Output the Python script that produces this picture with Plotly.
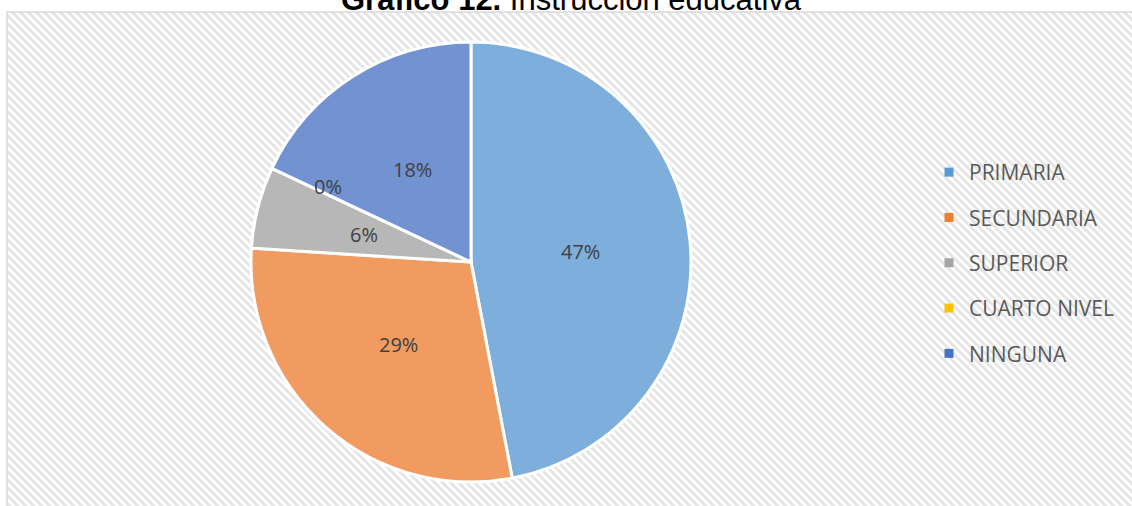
import base64
import math
import plotly.graph_objects as go

# ---- data ----
categories = ["PRIMARIA", "SECUNDARIA", "SUPERIOR", "CUARTO NIVEL", "NINGUNA"]
values = [47, 29, 6, 0, 18]
slice_colors = ["#7DAEDC", "#F19B60", "#B7B7B7", "#FFC000", "#7292D2"]
legend_colors = ["#5B9BD5", "#ED7D31", "#A5A5A5", "#FFC000", "#4472C4"]
title_bold = "Gráfico 12."
title_rest = " Instrucción educativa"

W, H = 1132, 506
CX, CY, R = 471, 262, 220  # pie placement in pixels

# hatched background (Excel-style wide downward diagonal)
svg = f'''<svg xmlns="http://www.w3.org/2000/svg" width="{W}" height="{H}">
<defs><pattern id="p" width="8" height="8" patternUnits="userSpaceOnUse">
<rect width="8" height="8" fill="#ffffff"/>
<path d="M-2,-2 L10,10 M-2,6 L2,10 M6,-2 L10,2" stroke="#E5E5E5" stroke-width="3"/>
</pattern></defs>
<rect width="{W}" height="{H}" fill="#ffffff"/>
<rect x="7" y="12" width="{W}" height="{H}" fill="url(#p)"/>
</svg>'''
bg_uri = "data:image/svg+xml;base64," + base64.b64encode(svg.encode()).decode()

fig = go.Figure()

fig.add_trace(go.Pie(
    labels=categories,
    values=values,
    sort=False,
    direction="clockwise",
    rotation=0,
    marker=dict(colors=slice_colors, line=dict(color="#FFFFFF", width=3)),
    textinfo="none",
    domain=dict(x=[(CX - R) / W, (CX + R) / W], y=[1 - (CY + R) / H, 1 - (CY - R) / H]),
    showlegend=False,
    hoverinfo="label+percent",
))

# legend entries
for name, col in zip(categories, legend_colors):
    fig.add_trace(go.Scatter(
        x=[None], y=[None], mode="markers", name=name, legendgroup=name,
        marker=dict(symbol="square", size=9, color=col),
    ))

# data labels, Excel-style: at half radius along each slice's mid-angle
annotations = []
total = sum(values)
cum = 0
for name, v in zip(categories, values):
    if v == 0:
        theta = 2 * math.pi * cum / total
        d = 0.72 * R
        dy_extra = -8
    else:
        theta = 2 * math.pi * (cum + v / 2) / total
        d = 0.5 * R
        dy_extra = 0
    px = CX + d * math.sin(theta)
    py = CY - d * math.cos(theta) + dy_extra
    annotations.append(dict(
        text=f"{v / total:.0%}", xref="paper", yref="paper",
        x=px / W, y=1 - py / H, xanchor="center", yanchor="middle", showarrow=False,
        font=dict(family="Open Sans", size=20, color="#404040"),
    ))
    cum += v

annotations.append(dict(
    text=f"<b>{title_bold}</b>{title_rest}", xref="paper", yref="paper",
    x=571 / W, y=1 - 19 / H, xanchor="center", yanchor="bottom", showarrow=False,
    font=dict(family="Liberation Sans", size=31, color="#000000"),
))

fig.update_layout(
    width=W, height=H,
    margin=dict(l=0, r=0, t=0, b=0),
    paper_bgcolor="rgba(0,0,0,0)",
    plot_bgcolor="rgba(0,0,0,0)",
    xaxis=dict(visible=False),
    yaxis=dict(visible=False),
    showlegend=True,
    legend=dict(
        x=929 / W, y=1 - 152 / H, xanchor="left", yanchor="top",
        font=dict(family="Open Sans", size=21, color="#595959"),
        tracegroupgap=15, bgcolor="rgba(0,0,0,0)", itemwidth=30,
    ),
    images=[dict(source=bg_uri, xref="paper", yref="paper", x=0, y=1,
                 sizex=1, sizey=1, sizing="stretch", layer="below")],
    shapes=[dict(type="rect", xref="paper", yref="paper",
                 x0=7 / W, x1=1.01, y0=-0.01, y1=1 - 12 / H,
                 line=dict(color="#D9D9D9", width=1.5), fillcolor="rgba(0,0,0,0)")],
    annotations=annotations,
)

fig.write_html("out.html", config={"displayModeBar": False},
               post_script="document.body.style.margin='0';document.body.style.overflow='hidden';")
